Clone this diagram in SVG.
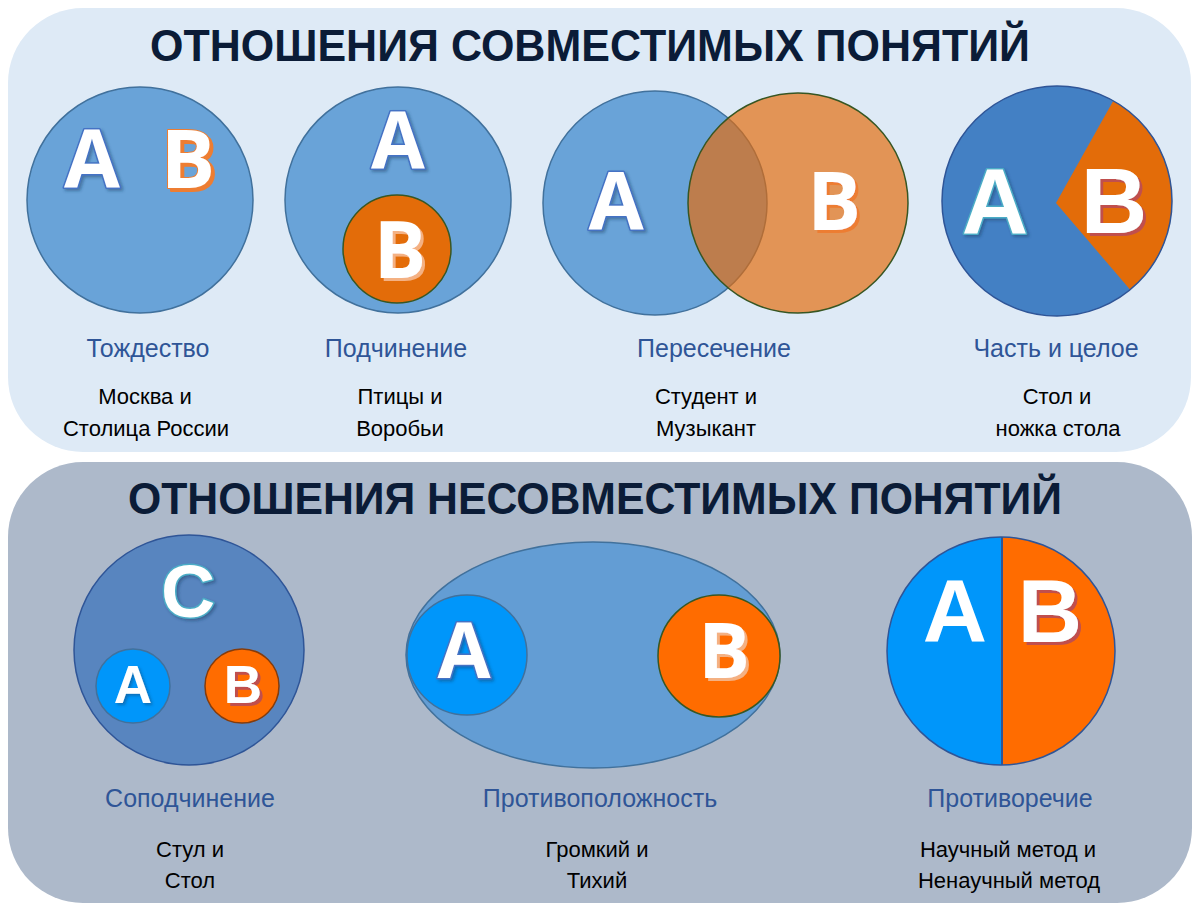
<svg xmlns="http://www.w3.org/2000/svg" width="1200" height="913" viewBox="0 0 1200 913">
<defs>
<filter id="sh" x="-20%" y="-20%" width="150%" height="150%">
<feDropShadow dx="2" dy="2" stdDeviation="1.5" flood-color="#1F3864" flood-opacity="0.45"/>
</filter>
<filter id="shOr" x="-20%" y="-20%" width="150%" height="150%">
<feDropShadow dx="3" dy="3" stdDeviation="0.3" flood-color="#ED7D31" flood-opacity="1"/>
</filter>
<filter id="shRed" x="-20%" y="-20%" width="150%" height="150%">
<feDropShadow dx="3" dy="3" stdDeviation="0.3" flood-color="#C0504D" flood-opacity="1"/>
</filter>
<filter id="shPeach" x="-20%" y="-20%" width="150%" height="150%">
<feDropShadow dx="3" dy="3" stdDeviation="0.5" flood-color="#F4B183" flood-opacity="1"/>
</filter>
<style>
.title{font-family:"Liberation Sans",Arial,sans-serif;font-weight:bold;font-size:45px;fill:#0B1C37;text-anchor:middle}
.lbl{font-family:"Liberation Sans",Arial,sans-serif;font-size:25px;fill:#2F5597;text-anchor:middle}
.ex{font-family:"Liberation Sans",Arial,sans-serif;font-size:22px;fill:#000;text-anchor:middle}
.os{font-family:"Open Sans","Noto Sans",sans-serif;font-weight:bold;text-anchor:middle;fill:#fff}
.ar{font-family:"Liberation Sans",Arial,sans-serif;font-weight:bold;text-anchor:middle;fill:#fff}
.blueout{stroke:#4472C4;stroke-width:3;paint-order:stroke;stroke-linejoin:round;filter:url(#sh)}
.tealout{stroke:#4BACC6;stroke-width:3;paint-order:stroke;stroke-linejoin:round;filter:url(#sh)}
.orout{stroke:#ED7D31;stroke-width:2;paint-order:stroke;stroke-linejoin:round;filter:url(#shOr)}
.redsh{filter:url(#shRed)}
.orsh{filter:url(#shOr)}
.peachsh{filter:url(#shPeach)}
.cl{fill:#69A3D8;stroke:#41719C;stroke-width:1.5}
</style>
</defs>

<g id="panel-compatible">
<rect x="8" y="8" width="1183" height="444" rx="75" ry="75" fill="#DEEAF6"/>
<text class="title" x="590" y="61" textLength="880" lengthAdjust="spacingAndGlyphs">ОТНОШЕНИЯ СОВМЕСТИМЫХ ПОНЯТИЙ</text>
</g>

<g id="panel-incompatible">
<rect x="8" y="462" width="1184" height="441" rx="75" ry="75" fill="#ADB9CA"/>
<text class="title" x="595" y="514" textLength="934" lengthAdjust="spacingAndGlyphs">ОТНОШЕНИЯ НЕСОВМЕСТИМЫХ ПОНЯТИЙ</text>
</g>

<g id="identity">
<circle class="cl" cx="140" cy="200" r="113"/>
<text class="os blueout" x="92" y="188" font-size="81">A</text>
<text class="os orout" x="188" y="188" font-size="81">B</text>
<text class="lbl" x="148" y="357">Тождество</text>
<text class="ex" x="145" y="404">Москва и</text>
<text class="ex" x="146" y="436">Столица России</text>
</g>

<g id="subordination">
<circle class="cl" cx="398" cy="200" r="113"/>
<text class="os blueout" x="398" y="168" font-size="78">A</text>
<circle cx="397" cy="249" r="54" fill="#E36C09" stroke="#385723" stroke-width="1.5"/>
<text class="os peachsh" x="400" y="278" font-size="78">B</text>
<text class="lbl" x="396" y="357">Подчинение</text>
<text class="ex" x="400" y="404">Птицы и</text>
<text class="ex" x="400" y="436">Воробьи</text>
</g>

<g id="intersection">
<circle class="cl" cx="655" cy="203" r="112"/>
<circle cx="798" cy="203" r="110" fill="#E46C0A" fill-opacity="0.68" stroke="#375623" stroke-width="1.5"/>
<text class="os blueout" x="616" y="230" font-size="80">A</text>
<text class="os orsh" x="834" y="230" font-size="80">B</text>
<text class="lbl" x="714" y="357">Пересечение</text>
<text class="ex" x="706" y="404">Студент и</text>
<text class="ex" x="706" y="436">Музыкант</text>
</g>

<g id="part-whole">
<circle cx="1057" cy="201" r="115" fill="#4380C4"/>
<path d="M1056,203 L1113.3,100.7 A115,115 0 0 1 1130.2,289.8 Z" fill="#E36C09"/>
<circle cx="1057" cy="201" r="115" fill="none" stroke="#2F5597" stroke-width="1.5"/>
<text class="ar tealout" x="995" y="233" font-size="92">A</text>
<text class="ar redsh" x="1114" y="233" font-size="92">B</text>
<text class="lbl" x="1056" y="357">Часть и целое</text>
<text class="ex" x="1057" y="404">Стол и</text>
<text class="ex" x="1058" y="436">ножка стола</text>
</g>

<g id="coordination">
<circle cx="189" cy="650" r="115" fill="#5885BF" stroke="#2F5597" stroke-width="1.5"/>
<text class="ar tealout" x="188" y="617" font-size="75">C</text>
<circle cx="133" cy="686" r="37" fill="#0096FA" stroke="#41719C" stroke-width="1.5"/>
<text class="ar" x="133" y="703" font-size="53" filter="url(#sh)">A</text>
<circle cx="242" cy="686" r="37" fill="#FF6C00" stroke="#843C0C" stroke-width="1.5"/>
<text class="ar redsh" x="243" y="703" font-size="53">B</text>
<text class="lbl" x="190" y="807">Соподчинение</text>
<text class="ex" x="190" y="857">Стул и</text>
<text class="ex" x="190" y="888">Стол</text>
</g>

<g id="opposition">
<ellipse cx="593" cy="655" rx="187" ry="113" fill="#639DD4" stroke="#41719C" stroke-width="1.5"/>
<circle cx="467" cy="655" r="60" fill="#0096FA" stroke="#41719C" stroke-width="1.5"/>
<text class="os blueout" x="464" y="678" font-size="77">A</text>
<circle cx="719" cy="656" r="61" fill="#FF6C00" stroke="#385723" stroke-width="1.5"/>
<text class="os peachsh" x="724" y="678" font-size="77">B</text>
<text class="lbl" x="600" y="807">Противоположность</text>
<text class="ex" x="597" y="857">Громкий и</text>
<text class="ex" x="597" y="888">Тихий</text>
</g>

<g id="contradiction">
<path d="M1001,537 A114,114 0 0 0 1001,765 Z" fill="#0096FA"/>
<path d="M1001,537 A114,114 0 0 1 1001,765 Z" fill="#FF6C00"/>
<line x1="1002" y1="537" x2="1002" y2="765" stroke="#2F5597" stroke-width="2"/>
<circle cx="1001" cy="651" r="114" fill="none" stroke="#2F5597" stroke-width="1.5"/>
<text class="ar" x="955" y="642" font-size="89">A</text>
<text class="ar redsh" x="1050" y="642" font-size="89">B</text>
<text class="lbl" x="1010" y="807">Противоречие</text>
<text class="ex" x="1008" y="857">Научный метод и</text>
<text class="ex" x="1009" y="888">Ненаучный метод</text>
</g>
</svg>
